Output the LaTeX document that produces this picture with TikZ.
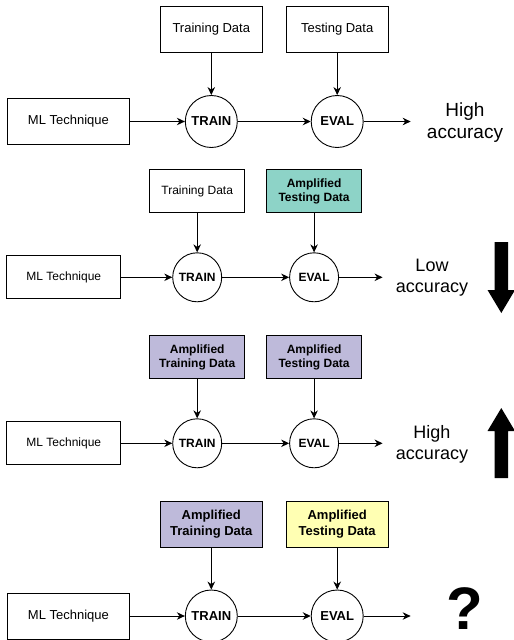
\documentclass[tikz,border=0pt]{standalone}
\usepackage{fontspec}
\setmainfont{Liberation Sans}
\usepackage{xcolor}
\usetikzlibrary{arrows.meta, positioning}

\definecolor{amptest}{HTML}{8DD3C7}
\definecolor{amptrain}{HTML}{BEBADA}
\definecolor{ampnew}{HTML}{FFFFB3}

\begin{document}
\begin{tikzpicture}[x=1pt, y=-1pt,
  box/.style={draw, line width=0.9pt, align=center, inner sep=1pt,
              minimum width=102pt, minimum height=46pt, font=\fontsize{13}{15.5}\selectfont},
  sbox/.style={box, minimum width=95pt, minimum height=43pt, font=\fontsize{12}{14.5}\selectfont},
  bold/.style={font=\fontsize{13}{15.5}\selectfont\bfseries},
  sbold/.style={font=\fontsize{12}{14.5}\selectfont\bfseries},
  op/.style={draw, circle, line width=0.9pt, minimum size=52pt, inner sep=0pt,
             font=\fontsize{13}{15}\selectfont\bfseries},
  sop/.style={op, minimum size=49pt, font=\fontsize{12}{14}\selectfont\bfseries},
  res/.style={align=center, font=\fontsize{19}{22}\selectfont},
  sres/.style={align=center, font=\fontsize{18}{21}\selectfont},
  arr/.style={-{Stealth[length=8pt, width=7.5pt]}, line width=0.9pt}
]
  \path[use as bounding box, clip] (0,0) rectangle (514,640);

  % baseline
  \node[op] (train1) at (211.3,121.5) {TRAIN};
  \node[op, right=73pt of train1] (eval1) {EVAL};
  \node[box, minimum width=122pt, left=55pt of train1] (ml1) {ML Technique};
  \node[box, above=42pt of train1] (trd1) {Training Data};
  \node[box, above=42pt of eval1]  (ted1) {Testing Data};
  \coordinate[right=47pt of eval1] (out1);
  \node[res] (res1) at (465,123) {High\\accuracy};
  \draw[arr] (ml1) -- (train1);
  \draw[arr] (train1) -- (eval1);
  \draw[arr] (eval1) -- (out1);
  \draw[arr] (trd1) -- (train1);
  \draw[arr] (ted1) -- (eval1);

  % amplified test set only
  \node[sop] (train2) at (197.2,277.3) {TRAIN};
  \node[sop, right=67pt of train2] (eval2) {EVAL};
  \node[sbox, minimum width=114pt, left=51pt of train2] (ml2) {ML Technique};
  \node[sbox, above=39pt of train2] (trd2) {Training Data};
  \node[sbox, sbold, fill=amptest, above=39pt of eval2] (ted2) {Amplified\\Testing Data};
  \coordinate[right=43.5pt of eval2] (out2);
  \node[sres] (res2) at (432,278) {Low\\accuracy};
  \draw[arr] (ml2) -- (train2);
  \draw[arr] (train2) -- (eval2);
  \draw[arr] (eval2) -- (out2);
  \draw[arr] (trd2) -- (train2);
  \draw[arr] (ted2) -- (eval2);
  \fill (494.5,242) -- (508,242) -- (508,290) -- (515,290) -- (501.3,313)
        -- (487.5,290) -- (494.5,290) -- cycle;

  % amplified train and test sets
  \node[sop] (train3) at (197.2,443.3) {TRAIN};
  \node[sop, right=67pt of train3] (eval3) {EVAL};
  \node[sbox, minimum width=114pt, left=51pt of train3] (ml3) {ML Technique};
  \node[sbox, sbold, fill=amptrain, above=39pt of train3] (trd3) {Amplified\\Training Data};
  \node[sbox, sbold, fill=amptrain, above=39pt of eval3]  (ted3) {Amplified\\Testing Data};
  \coordinate[right=43.5pt of eval3] (out3);
  \node[sres] (res3) at (432,444) {High\\accuracy};
  \draw[arr] (ml3) -- (train3);
  \draw[arr] (train3) -- (eval3);
  \draw[arr] (eval3) -- (out3);
  \draw[arr] (trd3) -- (train3);
  \draw[arr] (ted3) -- (eval3);
  \fill (494.5,478) -- (508,478) -- (508,431) -- (515,431) -- (501.3,408)
        -- (487.5,431) -- (494.5,431) -- cycle;

  % new test set
  \node[op] (train4) at (211.3,616) {TRAIN};
  \node[op, right=73pt of train4] (eval4) {EVAL};
  \node[box, minimum width=122pt, left=55pt of train4] (ml4) {ML Technique};
  \node[box, bold, fill=amptrain, above=42pt of train4] (trd4) {Amplified\\Training Data};
  \node[box, bold, fill=ampnew, above=42pt of eval4]    (ted4) {Amplified\\Testing Data};
  \coordinate[right=47pt of eval4] (out4);
  \node[inner sep=0pt, font=\fontsize{60}{60}\selectfont\bfseries] (res4) at (465,609) {?};
  \draw[arr] (ml4) -- (train4);
  \draw[arr] (train4) -- (eval4);
  \draw[arr] (eval4) -- (out4);
  \draw[arr] (trd4) -- (train4);
  \draw[arr] (ted4) -- (eval4);
\end{tikzpicture}
\end{document}
